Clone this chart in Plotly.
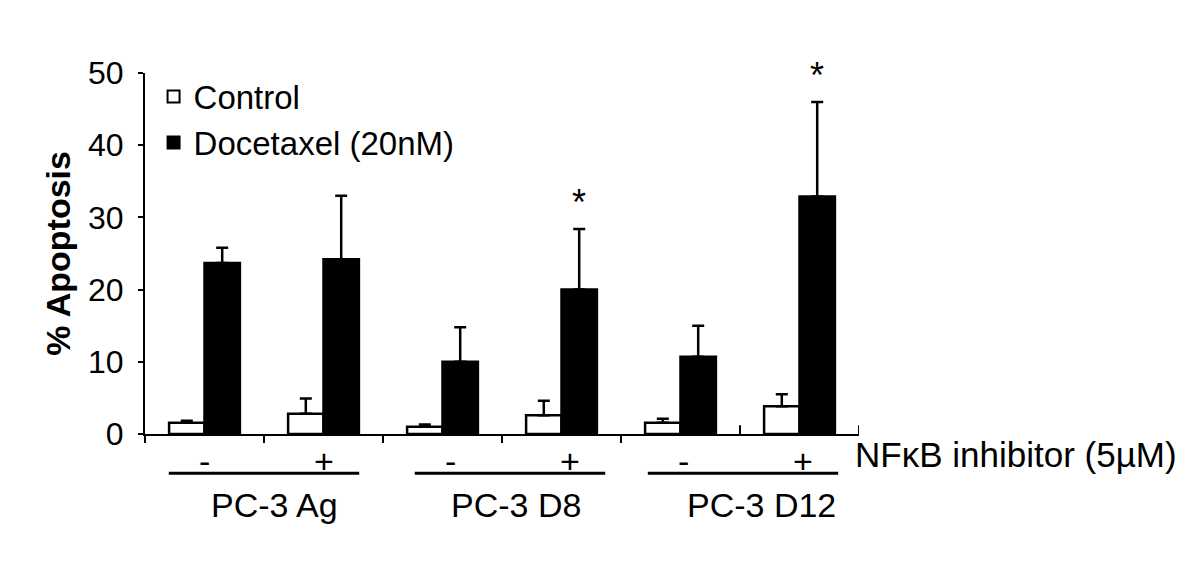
import plotly.graph_objects as go

# ---- data ----
cell_lines = ["PC-3 Ag", "PC-3 D8", "PC-3 D12"]
inhibitor = ["-", "+", "-", "+", "-", "+"]
control = [1.55, 2.8, 1.0, 2.6, 1.55, 3.85]
control_err = [0.3, 2.1, 0.3, 2.0, 0.55, 1.65]
docetaxel = [23.7, 24.2, 10.0, 20.0, 10.7, 32.9]
docetaxel_err = [2.1, 8.8, 4.8, 8.4, 4.3, 13.1]
significant = [False, False, False, True, False, True]
y_ticks = [0, 10, 20, 30, 40, 50]

FONT = "Arial, Liberation Sans, sans-serif"
x = list(range(len(inhibitor)))

fig = go.Figure()
fig.add_trace(go.Bar(
    x=x, y=control, name="Control",
    marker=dict(color="white", line=dict(color="black", width=2.5)),
    error_y=dict(type="data", array=control_err, arrayminus=[0] * len(control),
                 symmetric=False, color="black", thickness=2.5, width=6),
))
fig.add_trace(go.Bar(
    x=x, y=docetaxel, name="Docetaxel (20nM)",
    marker=dict(color="black", line=dict(color="black", width=2.5)),
    error_y=dict(type="data", array=docetaxel_err, arrayminus=[0] * len(docetaxel),
                 symmetric=False, color="black", thickness=2.5, width=6),
))

annotations = []
shapes = []

# significance stars
for i, sig in enumerate(significant):
    if sig:
        annotations.append(dict(
            x=i + 0.149, y=docetaxel[i] + docetaxel_err[i], xref="x", yref="y",
            text="*", showarrow=False, yanchor="bottom", yshift=4,
            font=dict(family=FONT, size=36, color="black")))

# inhibitor signs, underlines and cell-line labels
pair_shift = [0, 8, 3]
label_shift = [10, 14, 21]
for i, sign in enumerate(inhibitor):
    annotations.append(dict(
        x=i, y=0, xref="x", yref="paper", text=sign, showarrow=False,
        xanchor="center", yanchor="middle", yshift=-27,
        xshift=pair_shift[i // 2],
        font=dict(family=FONT, size=34, color="black")))
for g, name in enumerate(cell_lines):
    left = 2 * g - 0.3 + pair_shift[g] / 119.0
    right = 2 * g + 1.3 + pair_shift[g] / 119.0
    shapes.append(dict(type="line", xref="x", yref="paper",
                       x0=left, x1=right, y0=-0.109, y1=-0.109,
                       line=dict(color="black", width=3)))
    annotations.append(dict(
        x=2 * g + 0.5, y=0, xref="x", yref="paper", text=name, showarrow=False,
        xanchor="center", yanchor="middle", yshift=-71, xshift=label_shift[g],
        font=dict(family=FONT, size=34, color="black")))

annotations.append(dict(
    x=5.5, y=0, xref="x", yref="paper", text="NF\u03baB inhibitor (5\u00b5M)",
    showarrow=False, xanchor="left", yanchor="middle", xshift=-6, yshift=-20,
    font=dict(family=FONT, size=35, color="black")))

# y-axis title
annotations.append(dict(
    x=-0.123, y=0.5, xref="paper", yref="paper", text="<b>% Apoptosis</b>",
    showarrow=False, textangle=-90, xanchor="center", yanchor="middle",
    font=dict(family=FONT, size=34, color="black")))

# inward ticks at the right part of the x axis
for xv in (4.5, 5.5):
    shapes.append(dict(type="line", xref="x", yref="paper", x0=xv, x1=xv,
                       y0=0, y1=0.024, line=dict(color="black", width=2)))

fig.update_layout(
    width=1200, height=586,
    margin=dict(l=137, r=349, t=65, b=160, pad=0),
    paper_bgcolor="white", plot_bgcolor="white",
    barmode="group", bargap=0.405, bargroupgap=0,
    font=dict(family=FONT, color="black"),
    showlegend=True,
    legend=dict(x=0.012, y=1.012, xanchor="left", yanchor="top",
                bgcolor="rgba(0,0,0,0)", font=dict(family=FONT, size=33),
                tracegroupgap=0, itemsizing="constant"),
    annotations=annotations, shapes=shapes,
)
fig.update_xaxes(
    range=[-0.5, 5.5], tickmode="array", tickvals=[-0.5, 0.5, 1.5, 2.5, 3.5],
    showticklabels=False, ticks="outside", ticklen=7, tickwidth=2,
    tickcolor="black", showline=True, linecolor="black", linewidth=2,
    showgrid=False, zeroline=False,
)
fig.update_yaxes(
    range=[0, 50], tickmode="array", tickvals=y_ticks,
    ticks="outside", ticklen=5, tickwidth=2, tickcolor="black",
    showline=True, linecolor="black", linewidth=2, showgrid=False,
    zeroline=False, ticklabelstandoff=8,
    tickfont=dict(family=FONT, size=32, color="black"),
)

fig.write_html("out.html")
